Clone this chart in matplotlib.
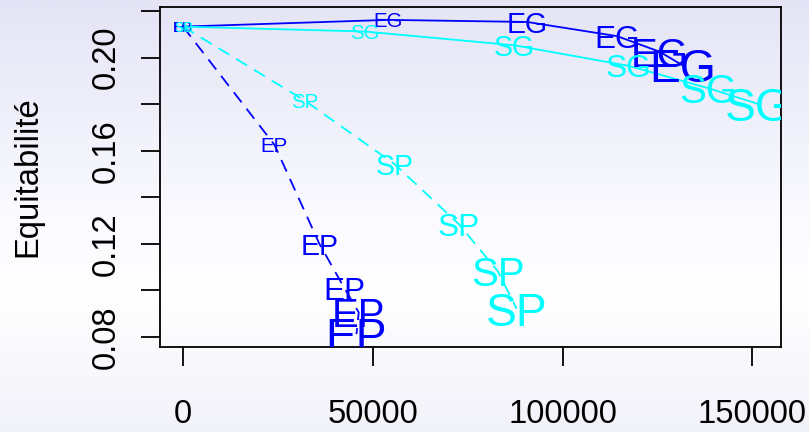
import numpy as np
import matplotlib
matplotlib.use("Agg")
import matplotlib.pyplot as plt
from matplotlib.colors import LinearSegmentedColormap

plt.rcParams['font.family'] = ['Liberation Sans', 'DejaVu Sans']

# Valeurs
eg_x = [0, 54100, 90700, 114400, 125600, 131700]
eg_y = [0.2133, 0.2162, 0.2153, 0.2092, 0.2025, 0.1966]
sg_x = [0, 47900, 87200, 117300, 138500, 151500]
sg_y = [0.2133, 0.2112, 0.2053, 0.1965, 0.1868, 0.1801]
ep_x = [0, 24100, 35900, 42600, 46300, 45700]
ep_y = [0.2133, 0.1625, 0.1201, 0.1007, 0.0905, 0.0812]
sp_x = [0, 32000, 55700, 72700, 82900, 87900]
sp_y = [0.2133, 0.1816, 0.1543, 0.1284, 0.1083, 0.0921]

# taille relative des étiquettes (cex) pour chaque pas
label_cex = [0.42, 0.62, 0.87, 0.96, 1.23, 1.41]

x_ticks = [0, 50000, 100000, 150000]
x_tick_labels = ["0", "50000", "100000", "150000"]
y_ticks = [0.08, 0.10, 0.12, 0.14, 0.16, 0.18, 0.20, 0.22]
y_tick_labels = ["0.08", "", "0.12", "", "0.16", "", "0.20", ""]

base_size = 23.6

fig = plt.figure(figsize=(8.09, 4.32), dpi=100)

# fond en dégradé
bg = fig.add_axes([0, 0, 1, 1], zorder=-1)
grad = np.linspace(0, 1, 256).reshape(-1, 1)
cmap = LinearSegmentedColormap.from_list(
    "fond", [(0, "#e4e4f6"), (0.5, "#fafaff"), (0.68, "#ffffff"), (1, "#f2f2fa")])
bg.imshow(grad, aspect="auto", cmap=cmap, extent=[0, 1, 0, 1])
bg.axis("off")

ax = fig.add_axes([0.1978, 0.1975, 0.7676, 0.7856])
ax.set_facecolor("none")

series = [
    (eg_x, eg_y, "EG", "blue", "-"),
    (sg_x, sg_y, "SG", "cyan", "-"),
    (ep_x, ep_y, "EP", "blue", "--"),
    (sp_x, sp_y, "SP", "cyan", "--"),
]

for xs, ys, lab, col, ls in series:
    line, = ax.plot(xs, ys, color=col, lw=1.3, linestyle=ls)
    if ls == "--":
        line.set_dashes((7, 4.5))
    for x, y, c in zip(xs, ys, label_cex):
        ax.text(x, y, lab, color=col, fontsize=base_size * c,
                ha="center", va="center_baseline", clip_on=True)

ax.margins(0.04)

ax.set_xticks(x_ticks)
ax.set_xticklabels(x_tick_labels)
ax.set_yticks(y_ticks)
ax.set_yticklabels(y_tick_labels)

ax.tick_params(axis="both", direction="out", length=13.7, width=1.3,
               labelsize=base_size)
ax.tick_params(axis="x", pad=24)
ax.tick_params(axis="y", pad=14, labelrotation=90)
plt.setp(ax.get_yticklabels(), va="center")

for s in ax.spines.values():
    s.set_linewidth(1.3)

fig.text(28.3 / 809, (432 - 177) / 432, "Equitabilité", rotation=90,
         ha="center", va="center", fontsize=base_size)

fig.savefig("out.png", dpi=100)
